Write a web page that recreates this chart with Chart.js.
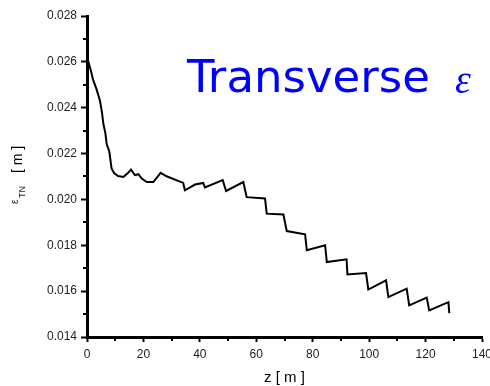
<!DOCTYPE html>
<html>
<head>
<meta charset="utf-8">
<script src="https://cdn.jsdelivr.net/npm/chart.js@4.4.1/dist/chart.umd.min.js"></script>
<style>
  body { margin: 0; background: #fff; }
</style>
</head>
<body>
<canvas id="myChart" width="490" height="386"></canvas>
<script>
// datos: z en metros, emitancia transversal en m
const zVals = [0, 1.2, 2.2, 3.4, 4.6, 5.3, 5.8, 6.5, 7.0, 7.9, 8.7, 9.6, 11.0, 12.9, 14.5, 15.6, 17.0, 18.2, 19.4, 21.2, 23.5, 26.1, 28.2, 34.1, 34.7, 38.3, 41.2, 41.8, 48.1, 49.3, 55.4, 56.6, 63.1, 63.7, 69.6, 70.8, 77.3, 77.9, 84.4, 85.0, 92.0, 92.3, 98.9, 99.7, 106.0, 106.8, 113.3, 114.2, 120.4, 121.3, 128.1, 128.4];
const epsVals = [0.0262, 0.0257, 0.0252, 0.0248, 0.0243, 0.0238, 0.0233, 0.0229, 0.0224, 0.0221, 0.02135, 0.02115, 0.02102, 0.02098, 0.02115, 0.0213, 0.02106, 0.0211, 0.02091, 0.02076, 0.02076, 0.02116, 0.02101, 0.02072, 0.0204, 0.02065, 0.02072, 0.02052, 0.02084, 0.02037, 0.02076, 0.0201, 0.02004, 0.01938, 0.01934, 0.01862, 0.01848, 0.01778, 0.018, 0.01727, 0.01739, 0.01673, 0.01679, 0.01607, 0.01647, 0.01574, 0.01611, 0.01538, 0.01572, 0.01516, 0.01552, 0.01504];

// ticks menores (sin etiqueta)
const xMinorTicks = [10, 30, 50, 70, 90, 110, 130];
const yMinorTicks = [0.015, 0.017, 0.019, 0.021, 0.023, 0.025, 0.027];

const titulo = "Transverse";
const simbolo = "ε";
const xTitle = "z [ m ]";

const puntos = zVals.map((z, i) => ({ x: z, y: epsVals[i] }));

// plugin para textos y ticks menores
const textos = {
  id: 'textos',
  afterDraw(chart) {
    const ctx = chart.ctx;
    const xs = chart.scales.x;
    const ys = chart.scales.y;
    ctx.save();
    ctx.strokeStyle = '#000';
    ctx.lineWidth = 2;
    xMinorTicks.forEach((v) => {
      const px = Math.round(xs.getPixelForValue(v));
      ctx.beginPath();
      ctx.moveTo(px, xs.top);
      ctx.lineTo(px, xs.top + 4);
      ctx.stroke();
    });
    yMinorTicks.forEach((v) => {
      const py = Math.round(ys.getPixelForValue(v));
      ctx.beginPath();
      ctx.moveTo(ys.right, py);
      ctx.lineTo(ys.right - 4, py);
      ctx.stroke();
    });

    // titulo azul
    ctx.fillStyle = '#0000ff';
    ctx.textBaseline = 'alphabetic';
    ctx.textAlign = 'left';
    ctx.font = '45px "DejaVu Sans"';
    ctx.fillText(titulo, 187, 92);
    ctx.font = 'italic 40px "Liberation Serif"';
    ctx.fillText(simbolo, 455, 93);

    // titulo eje x
    ctx.fillStyle = '#000';
    ctx.font = '15px "Liberation Sans"';
    ctx.textAlign = 'center';
    ctx.textBaseline = 'middle';
    ctx.fillText(xTitle, (chart.chartArea.left + chart.chartArea.right) / 2, 378);

    // titulo eje y con subindice
    ctx.translate(17, 176);
    ctx.rotate(-Math.PI / 2);
    ctx.textAlign = 'left';
    ctx.textBaseline = 'alphabetic';
    ctx.fillStyle = '#222';
    ctx.font = '10px "Liberation Sans"';
    ctx.fillText('ε', -28, 1);
    ctx.font = '9px "Liberation Sans"';
    ctx.fillText('TN', -22, 8);
    ctx.fillStyle = '#000';
    ctx.font = '14px "Liberation Sans"';
    ctx.fillText('[ m ]', 3, 5);
    ctx.restore();
  }
};

const config = {
  type: 'scatter',
  data: {
    datasets: [{
      data: puntos,
      showLine: true,
      borderColor: '#000',
      borderWidth: 2,
      pointRadius: 0,
      tension: 0,
      fill: false
    }]
  },
  options: {
    responsive: false,
    animation: false,
    layout: { padding: { top: 16, right: 8, left: 0, bottom: 0 } },
    plugins: {
      legend: { display: false },
      tooltip: { enabled: false }
    },
    scales: {
      x: {
        type: 'linear',
        min: 0,
        max: 140,
        afterFit: (s) => { s.height = 49; s.paddingLeft = 0; s.paddingRight = 0; },
        border: { display: true, color: '#000', width: 3 },
        grid: { drawOnChartArea: false, drawTicks: true, tickLength: 5, tickWidth: 2, tickColor: '#000' },
        ticks: {
          stepSize: 20,
          padding: 5,
          color: '#222',
          font: { family: 'Liberation Sans', size: 12 },
          maxRotation: 0
        }
      },
      y: {
        min: 0.014,
        max: 0.028,
        afterFit: (s) => { s.width = 87; s.paddingTop = 0; s.paddingBottom = 0; },
        border: { display: true, color: '#000', width: 3 },
        grid: { drawOnChartArea: false, drawTicks: true, tickLength: 6, tickWidth: 2, tickColor: '#000' },
        ticks: {
          stepSize: 0.002,
          padding: 4,
          color: '#222',
          font: { family: 'Liberation Sans', size: 12 },
          callback: (v) => v.toFixed(3)
        }
      }
    }
  },
  plugins: [textos]
};

const myChart = new Chart(document.getElementById('myChart'), config);
</script>
</body>
</html>
